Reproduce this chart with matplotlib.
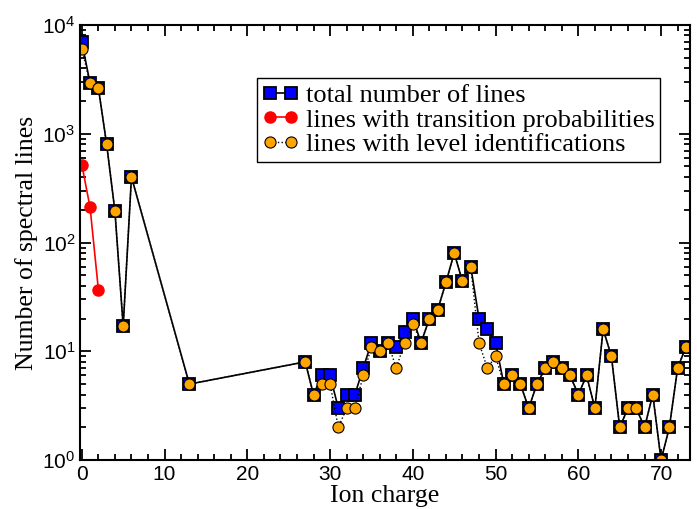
import numpy as np
import matplotlib
matplotlib.use('Agg')
import matplotlib.pyplot as plt
from matplotlib.ticker import LogLocator, MultipleLocator, NullFormatter

# ion charges and line counts
charge = [0, 1, 2, 3, 4, 5, 6, 13, 27, 28, 29, 30, 31, 32, 33, 34, 35, 36, 37,
          38, 39, 40, 41, 42, 43, 44, 45, 46, 47, 48, 49, 50, 51, 52, 53, 54,
          55, 56, 57, 58, 59, 60, 61, 62, 63, 64, 65, 66, 67, 68, 69, 70, 71,
          72, 73]
total_lines = [7000, 2900, 2650, 800, 195, 17, 400, 5, 8, 4, 6, 6, 3, 4, 4, 7,
               12, 10, 12, 11, 15, 20, 12, 20, 24, 43, 80, 44, 60, 20, 16, 12,
               5, 6, 5, 3, 5, 7, 8, 7, 6, 4, 6, 3, 16, 9, 2, 3, 3, 2, 4, 1, 2,
               7, 11]
ident_lines = [6000, 2900, 2650, 800, 195, 17, 400, 5, 8, 4, 5, 5, 2, 3, 3, 6,
               11, 10, 12, 7, 12, 18, 12, 20, 24, 43, 80, 44, 60, 12, 7, 9,
               5, 6, 5, 3, 5, 7, 8, 7, 6, 4, 6, 3, 16, 9, 2, 3, 3, 2, 4, 1, 2,
               7, 11]
tp_charge = [0, 1, 2]
tp_lines = [520, 210, 37]

plt.rcParams['font.family'] = 'Liberation Sans'

fig = plt.figure(figsize=(6.97, 5.09), dpi=100)
ax = fig.add_axes([0.115, 0.096, 0.875, 0.855])

ax.plot(charge, total_lines, '-', color='black', lw=1.2, marker='s', ms=9,
        mfc='#0000ff', mec='black', mew=1.3, label='total number of lines')
ax.plot(tp_charge, tp_lines, '-', color='red', lw=1.2, marker='o', ms=8,
        mfc='red', mec='red', label='lines with transition probabilities')
ax.plot(charge, ident_lines, ':', color='black', lw=1.0, marker='o', ms=8,
        mfc='#ffa500', mec='black', mew=0.8, label='lines with level identifications')

ax.set_yscale('log')
ax.set_ylim(1, 1e4)
ax.set_xlim(-0.2, 73.5)

ax.xaxis.set_major_locator(MultipleLocator(10))
ax.xaxis.set_minor_locator(MultipleLocator(2))
ax.yaxis.set_major_locator(LogLocator(base=10, numticks=10))
ax.yaxis.set_minor_locator(LogLocator(base=10, subs=np.arange(2, 10), numticks=20))
ax.yaxis.set_minor_formatter(NullFormatter())

ax.tick_params(which='both', direction='in', top=True, right=True, labelsize=15, width=1.3)
ax.tick_params(which='major', length=8)
ax.tick_params(which='minor', length=4.5)
for s in ax.spines.values():
    s.set_linewidth(1.5)

ax.set_xlabel('Ion charge', family='Liberation Serif', fontsize=18.5, labelpad=1)
ax.set_ylabel('Number of spectral lines', family='Liberation Serif', fontsize=18.5, labelpad=3)

leg = ax.legend(loc='upper left', bbox_to_anchor=(0.29, 0.878), numpoints=2,
                prop={'family': 'Liberation Serif', 'size': 19}, fancybox=False,
                edgecolor='black', framealpha=1, handlelength=1.4,
                handletextpad=0.25, borderpad=0.2, labelspacing=0.05,
                borderaxespad=0)
leg.get_frame().set_linewidth(1.0)

fig.savefig('out.png', dpi=100)
